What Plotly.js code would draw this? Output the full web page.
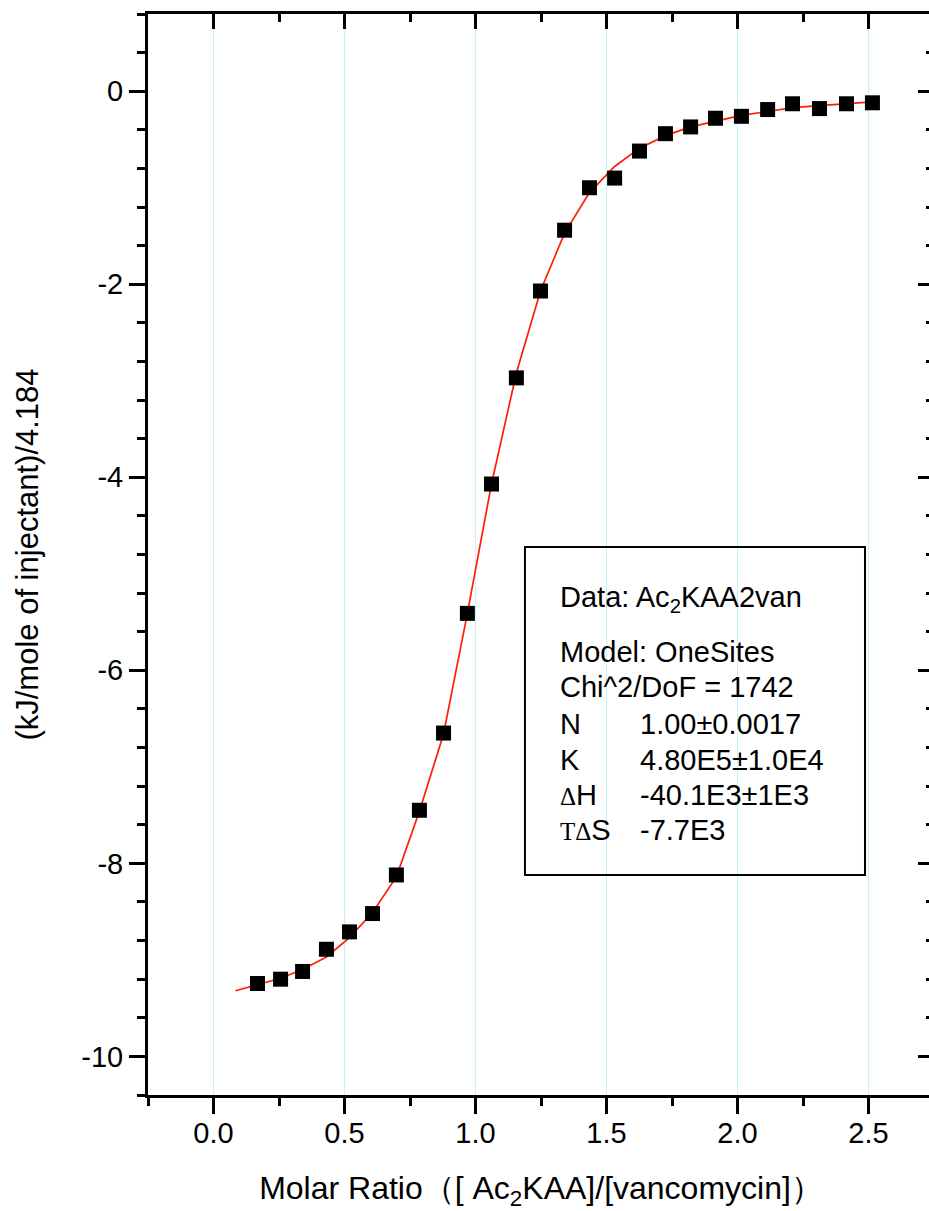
<!DOCTYPE html>
<html>
<head>
<meta charset="utf-8">
<script src="https://cdn.plot.ly/plotly-3.0.1.min.js"></script>
<style>
html, body { margin:0; padding:0; overflow:hidden; background:#fff; }
#chart { width:950px; height:1211px; }
</style>
</head>
<body>
<div id="chart"></div>
<script>
// Measured injection points (molar ratio) and integrated heats
const molarRatio = [0.168, 0.256, 0.340, 0.431, 0.519, 0.607, 0.698, 0.786, 0.878, 0.969, 1.061, 1.156, 1.248, 1.340, 1.435, 1.531, 1.626, 1.725, 1.821, 1.916, 2.015, 2.115, 2.210, 2.313, 2.416, 2.515];
const heat = [-9.245, -9.20, -9.12, -8.89, -8.71, -8.52, -8.12, -7.45, -6.65, -5.41, -4.07, -2.97, -2.07, -1.44, -1.00, -0.90, -0.62, -0.44, -0.37, -0.28, -0.26, -0.19, -0.13, -0.18, -0.13, -0.12];

// Fitted one-site model curve as drawn
const fitRatio = [0.084, 0.168, 0.256, 0.340, 0.431, 0.519, 0.607, 0.698, 0.786, 0.878, 0.969, 1.061, 1.156, 1.248, 1.340, 1.435, 1.531, 1.626, 1.725, 1.821, 1.916, 2.015, 2.115, 2.210, 2.313, 2.416, 2.515];
const fitHeat = [-9.32, -9.26, -9.19, -9.10, -8.97, -8.77, -8.51, -8.14, -7.46, -6.66, -5.41, -4.07, -2.92, -2.07, -1.47, -1.05, -0.78, -0.59, -0.46, -0.37, -0.31, -0.25, -0.21, -0.17, -0.15, -0.13, -0.11];

// Tick labels
const yTickVals = [-10, -8, -6, -4, -2, 0];
const yTickText = ['-10', '-8', '-6', '-4', '-2', '0'];
const xTickVals = [0, 0.5, 1, 1.5, 2, 2.5];
const xTickText = ['0.0', '0.5', '1.0', '1.5', '2.0', '2.5'];

// Fit results text
const boxHeaderLines = ['Data: Ac<sub>2</sub>KAA2van', 'Model: OneSites', 'Chi^2/DoF = 1742'];
const paramNames = ['N', 'K', '<span style="font-family:\'Liberation Serif\',serif;font-size:25px">Δ</span>H', '<span style="font-family:\'Liberation Serif\',serif;font-size:25px">TΔ</span>S'];
const paramValues = ['1.00±0.0017', '4.80E5±1.0E4', '-40.1E3±1E3', '-7.7E3'];

const FONT = 'Liberation Sans, Arial, sans-serif';
const xRange = [-0.25, 2.75];
const yRange = [-10.4, 0.8];

const traces = [
  { x: fitRatio, y: fitHeat, type: 'scatter', mode: 'lines',
    line: { color: 'rgb(255,30,0)', width: 1.7 }, hoverinfo: 'skip', showlegend: false },
  { x: molarRatio, y: heat, type: 'scatter', mode: 'markers',
    marker: { symbol: 'square', size: 15, color: '#000', line: { width: 0 } }, showlegend: false },
  { x: [], y: [], xaxis: 'x2', yaxis: 'y2', type: 'scatter', mode: 'markers', showlegend: false, hoverinfo: 'skip' }
];

const axisCommon = { showline: true, linecolor: '#000', linewidth: 3, zeroline: false, mirror: false };

const BOXFONT = { family: FONT, size: 29, color: '#000' };
const annotations = [];
const headerY = [0.4585, 0.410, 0.377];
boxHeaderLines.forEach((t, i) => annotations.push({
  xref: 'paper', yref: 'paper', x: 0.5216, y: headerY[i], xanchor: 'left', yanchor: 'middle',
  text: t, showarrow: false, font: BOXFONT
}));
const paramY = [0.3435, 0.3102, 0.2778, 0.2454];
paramNames.forEach((t, i) => {
  annotations.push({ xref: 'paper', yref: 'paper', x: 0.5216, y: paramY[i], xanchor: 'left', yanchor: 'middle',
    text: t, showarrow: false, font: BOXFONT });
  annotations.push({ xref: 'paper', yref: 'paper', x: 0.624, y: paramY[i], xanchor: 'left', yanchor: 'middle',
    text: paramValues[i], showarrow: false, font: BOXFONT });
});

const layout = {
  width: 950, height: 1211,
  margin: { l: 148, r: 16, t: 14, b: 116, pad: 0 },
  paper_bgcolor: '#fff', plot_bgcolor: '#fff',
  showlegend: false,
  font: { family: FONT, color: '#000' },
  xaxis: Object.assign({}, axisCommon, {
    range: xRange, tickmode: 'array', tickvals: xTickVals, ticktext: xTickText,
    ticks: 'outside', ticklen: 16, tickwidth: 3, tickcolor: '#000',
    minor: { dtick: 0.25, tick0: 0, ticks: 'outside', ticklen: 8, tickwidth: 3, tickcolor: '#000', showgrid: false },
    showgrid: true, gridcolor: '#c4f2f6', gridwidth: 1,
    tickfont: { family: FONT, size: 29, color: '#000' },
    ticklabelstandoff: -6,
    title: { text: 'Molar Ratio（[ Ac<sub>2</sub>KAA]/[vancomycin]）', font: { family: FONT, size: 32, color: '#000' }, standoff: 30 }
  }),
  xaxis2: Object.assign({}, axisCommon, {
    range: xRange, overlaying: 'x', side: 'top', anchor: 'y',
    tickmode: 'array', tickvals: xTickVals, showticklabels: false,
    ticks: 'inside', ticklen: 15, tickwidth: 3, tickcolor: '#000',
    minor: { dtick: 0.25, tick0: 0, ticks: 'inside', ticklen: 8, tickwidth: 3, tickcolor: '#000', showgrid: false },
    showgrid: false
  }),
  yaxis: Object.assign({}, axisCommon, {
    range: yRange, tickmode: 'array', tickvals: yTickVals, ticktext: yTickText,
    ticks: 'outside', ticklen: 16, tickwidth: 3, tickcolor: '#000',
    minor: { dtick: 0.4, tick0: 0, ticks: 'outside', ticklen: 8, tickwidth: 3, tickcolor: '#000', showgrid: false },
    showgrid: false,
    tickfont: { family: FONT, size: 29, color: '#000' },
    ticklabelstandoff: 0,
    title: { text: '(kJ/mole of injectant)/4.184', font: { family: FONT, size: 31, color: '#000' }, standoff: 34 }
  }),
  yaxis2: Object.assign({}, axisCommon, {
    range: yRange, overlaying: 'y', side: 'right', anchor: 'x',
    tickmode: 'array', tickvals: yTickVals, showticklabels: false,
    ticks: 'inside', ticklen: 16, tickwidth: 3, tickcolor: '#000',
    minor: { dtick: 0.4, tick0: 0, ticks: 'inside', ticklen: 8, tickwidth: 3, tickcolor: '#000', showgrid: false },
    showgrid: false
  }),
  shapes: [{
    type: 'rect', xref: 'paper', yref: 'paper', x0: 0.4796, x1: 0.9122, y0: 0.2035, y1: 0.507,
    line: { color: '#000', width: 2 }, fillcolor: 'rgba(0,0,0,0)', layer: 'above'
  }],
  annotations: annotations
};

Plotly.newPlot('chart', traces, layout, { staticPlot: true, displayModeBar: false });
</script>
</body>
</html>
